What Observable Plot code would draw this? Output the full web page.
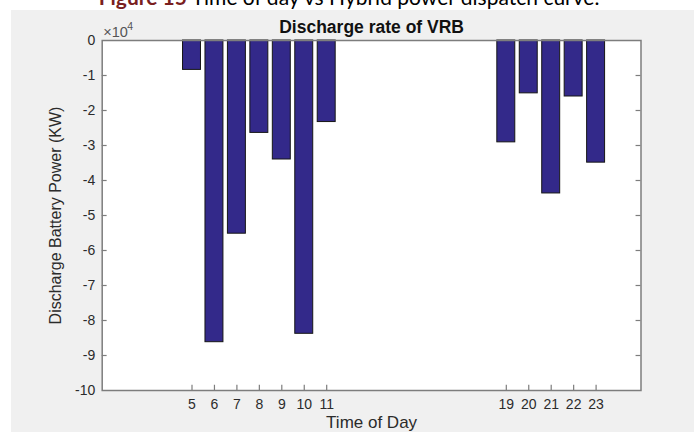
<!DOCTYPE html>
<html>
<head>
<meta charset="utf-8">
<script src="https://cdn.jsdelivr.net/npm/d3@7"></script>
<script src="https://cdn.jsdelivr.net/npm/@observablehq/plot@0.6"></script>
<style>
  html, body { margin: 0; padding: 0; background: #ffffff; }
  #wrap { position: relative; width: 694px; height: 432px; overflow: hidden; background: #ffffff; }
  #bg { position: absolute; left: 11px; top: 10px; right: 0; bottom: 0; background: #f0f0f0; }
  #cap { position: absolute; left: 0; top: 0; }
  #chart { position: absolute; left: 0; top: 0; }
  #chart svg { background: transparent; overflow: visible; }
</style>
</head>
<body>
<div id="wrap">
  <div id="bg"></div>
  <svg id="cap" width="694" height="20">
    <text x="349" y="5" text-anchor="middle" font-family="Lato, 'Open Sans', sans-serif" font-size="21" fill="#000">
      <tspan font-weight="bold" fill="#7a1f1f">Figure 15</tspan><tspan> Time of day vs Hybrid power dispatch curve.</tspan>
    </text>
  </svg>
  <div id="chart"></div>
</div>
<script>
// Data (discharge power in kW; axis shows values ×10^4)
const hours = [5, 6, 7, 8, 9, 10, 11, 19, 20, 21, 22, 23];
const power = [-8400, -86200, -55200, -26400, -34000, -83800, -23300, -29100, -15100, -43700, -16000, -34900];
const yTicks = [0, -10000, -20000, -30000, -40000, -50000, -60000, -70000, -80000, -90000, -100000];
const yInnerTicks = [-10000, -20000, -30000, -40000, -50000, -60000, -70000, -80000, -90000];
const title = "Discharge rate of VRB";
const xLabel = "Time of Day";
const yLabel = "Discharge Battery Power (KW)";

const data = hours.map((h, i) => ({hour: h, power: power[i]}));

const font = "'Liberation Sans', Arial, Helvetica, sans-serif";
const textColor = "#2b2b2b";
const axisColor = "#7d7d7d";
const barWidth = 0.8;
const xDomain = [1, 25];
const yDomain = [-100000, 0];
const tickLenX = 0.22;   // in hour units (~5px)
const tickLenY = 1500;   // in kW units (~5px)

const chart = Plot.plot({
  width: 694,
  height: 432,
  marginLeft: 101.7,
  marginRight: 53.5,
  marginTop: 40,
  marginBottom: 42,
  style: {fontFamily: font, color: textColor, background: "transparent", overflow: "visible"},
  x: {domain: xDomain},
  y: {domain: yDomain},
  marks: [
    Plot.frame({fill: "white", stroke: "none"}),
    // inward ticks (drawn under bars, as in MATLAB)
    Plot.ruleX(hours, {x: d => d, y1: yDomain[0], y2: yDomain[0] + tickLenY, stroke: axisColor, strokeWidth: 1.2}),
    Plot.ruleX(hours, {x: d => d, y1: yDomain[1], y2: yDomain[1] - tickLenY, stroke: axisColor, strokeWidth: 1.2}),
    Plot.ruleY(yInnerTicks, {y: d => d, x1: xDomain[0], x2: xDomain[0] + tickLenX, stroke: axisColor, strokeWidth: 1.2}),
    Plot.ruleY(yInnerTicks, {y: d => d, x1: xDomain[1], x2: xDomain[1] - tickLenX, stroke: axisColor, strokeWidth: 1.2}),
    Plot.rectY(data, {
      x1: d => d.hour - barWidth / 2,
      x2: d => d.hour + barWidth / 2,
      y1: 0,
      y2: d => d.power,
      fill: "#33298a",
      stroke: "#161616",
      strokeWidth: 1
    }),
    Plot.frame({stroke: axisColor, strokeWidth: 1.5}),
    Plot.axisX({ticks: hours, tickFormat: d => String(d), tickSize: 0, tickPadding: 9, fontSize: 14, fill: textColor, label: null}),
    Plot.axisY({ticks: yTicks, tickFormat: d => String(d / 10000), tickSize: 0, tickPadding: 7, fontSize: 14, fill: textColor, label: null}),
    // exponent label
    Plot.text(["×10"], {x: xDomain[0], y: yDomain[1], text: d => d, textAnchor: "start", lineAnchor: "bottom", dx: 1, dy: -4, fontSize: 14.5, fill: "#555"}),
    Plot.text(["4"], {x: xDomain[0], y: yDomain[1], text: d => d, textAnchor: "start", lineAnchor: "bottom", dx: 25, dy: -11, fontSize: 10.5, fill: "#555"}),
    // title
    Plot.text([title], {frameAnchor: "top", text: d => d, lineAnchor: "bottom", dy: -7.3, fontSize: 17.5, fontWeight: "bold", fill: "#111"}),
    // axis labels
    Plot.text([xLabel], {frameAnchor: "bottom", text: d => d, lineAnchor: "bottom", dy: 37, fontSize: 17, fill: textColor}),
    Plot.text([yLabel], {frameAnchor: "left", text: d => d, rotate: -90, textAnchor: "middle", lineAnchor: "middle", dx: -46, fontSize: 16, fill: textColor})
  ]
});
document.getElementById("chart").appendChild(chart);
</script>
</body>
</html>
